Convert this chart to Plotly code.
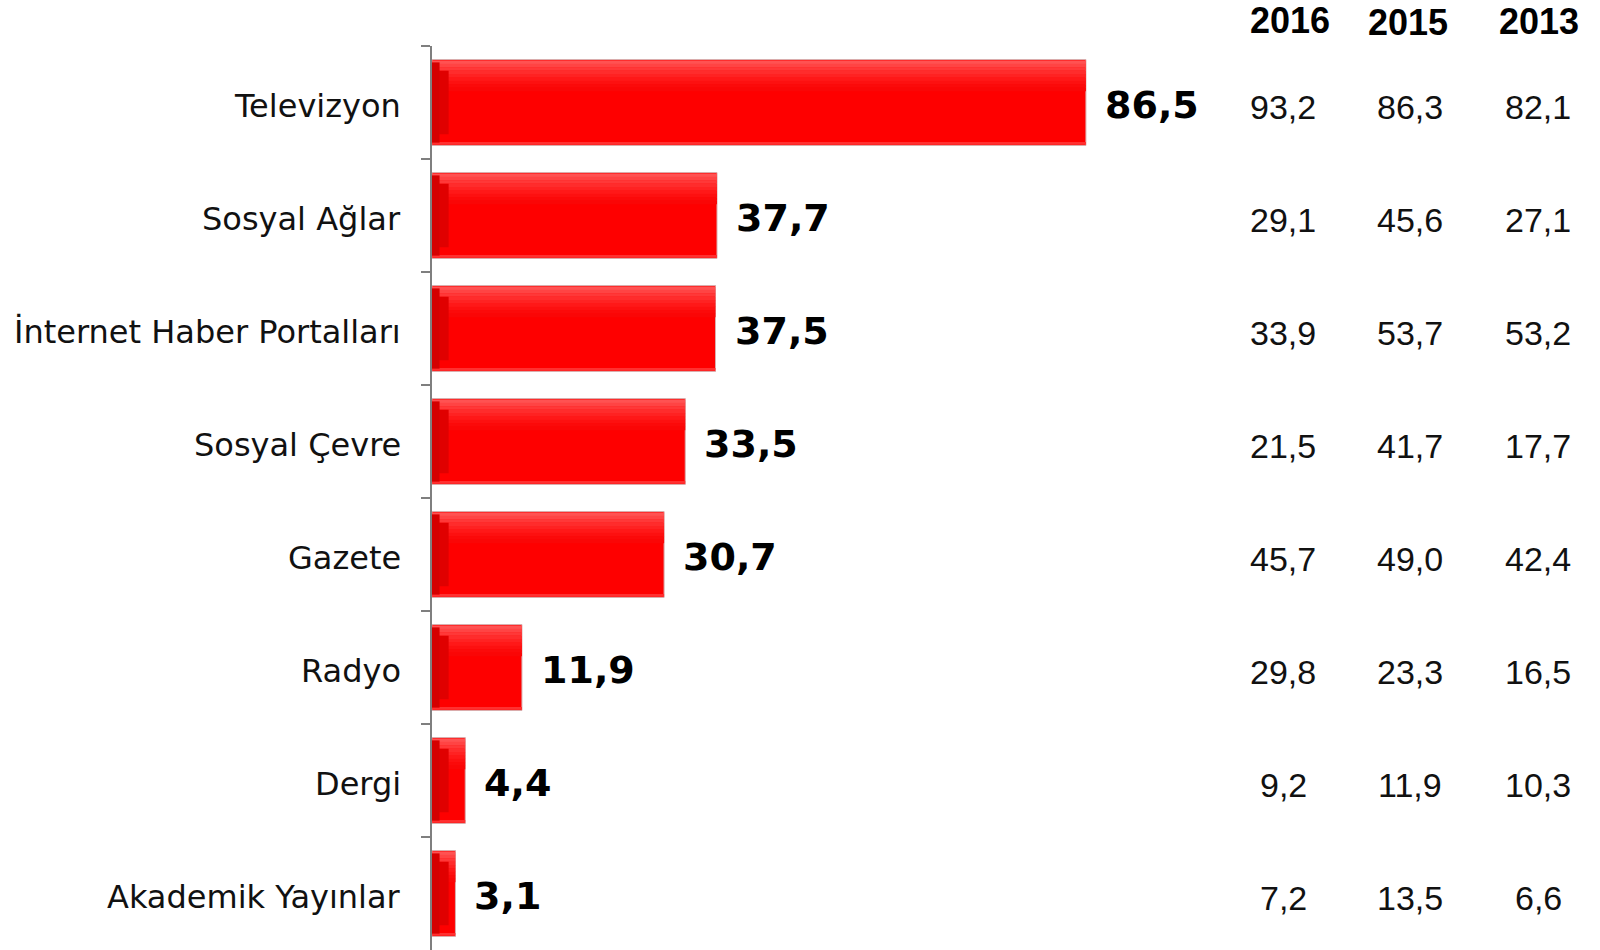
import plotly.graph_objects as go

# ---- data ----
categories = ["Televizyon", "Sosyal Ağlar", "İnternet Haber Portalları", "Sosyal Çevre",
              "Gazete", "Radyo", "Dergi", "Akademik Yayınlar"]
values_main = [86.5, 37.7, 37.5, 33.5, 30.7, 11.9, 4.4, 3.1]
years = ["2016", "2015", "2013"]
values_2016 = [93.2, 29.1, 33.9, 21.5, 45.7, 29.8, 9.2, 7.2]
values_2015 = [86.3, 45.6, 53.7, 41.7, 49.0, 23.3, 11.9, 13.5]
values_2013 = [82.1, 27.1, 53.2, 17.7, 42.4, 16.5, 10.3, 6.6]


def fmt(v):
    return f"{v:.1f}".replace(".", ",")


# ---- layout constants (body margin removed via post_script) ----
W, H = 1600, 950
ML, MR, MT, MB = 432, 412, 46, 0
PW = W - ML - MR
PH = H - MT - MB


def px_to_paper_x(px):
    return (px - ML) / PW


def px_to_paper_y(py):
    return 1 - (py - MT) / PH


fig = go.Figure()

BW = 0.76
top = -BW / 2
# main bar
fig.add_trace(go.Bar(y=categories, x=values_main, orientation="h", width=BW, offset=top,
                     marker=dict(color="#FE0000", line=dict(color="#D8B0B0", width=1)),
                     hoverinfo="skip", showlegend=False))
# top-light gradient stripes (style)
grad = ["#FF5252", "#FF4444", "#FF3838", "#FF2C2C", "#FF2222", "#FF1818", "#FD1010", "#FB0A0A", "#FA0606"]
step = 0.03
for i, col in enumerate(grad):
    fig.add_trace(go.Bar(y=categories, x=values_main, orientation="h", width=step + 0.002,
                         offset=top + 0.008 + i * step,
                         marker=dict(color=col, line=dict(width=0)),
                         hoverinfo="skip", showlegend=False))
# bottom light edge
fig.add_trace(go.Bar(y=categories, x=values_main, orientation="h", width=0.015, offset=top + BW - 0.022,
                     marker=dict(color="#FF3030", line=dict(width=0)),
                     hoverinfo="skip", showlegend=False))
# left darker bevel
fig.add_trace(go.Bar(y=categories, x=[min(v, 2.2) for v in values_main], orientation="h",
                     width=BW - 0.2, offset=top + 0.1,
                     marker=dict(color="#E00000", line=dict(width=0)),
                     hoverinfo="skip", showlegend=False))
fig.add_trace(go.Bar(y=categories, x=[min(v, 1.0) for v in values_main], orientation="h",
                     width=BW - 0.05, offset=top + 0.025,
                     marker=dict(color="#D40000", line=dict(width=0)),
                     hoverinfo="skip", showlegend=False))

annotations = []
# category labels
for c in categories:
    annotations.append(dict(x=0, y=c, xref="paper", yref="y", text=c, showarrow=False,
                            xanchor="right", yanchor="middle", xshift=-29, yshift=-3,
                            font=dict(family="DejaVu Sans", size=32, color="#111111")))
# value labels next to bars
for c, v in zip(categories, values_main):
    annotations.append(dict(x=v, y=c, xref="x", yref="y", text=fmt(v), showarrow=False,
                            xanchor="left", yanchor="middle", xshift=17, yshift=-2,
                            font=dict(family="DejaVu Sans", size=38, color="#000000", weight="bold")))

# table columns on the right
col_val_px = [1283, 1410, 1538]
col_head_px = [1290, 1408, 1539]
head_y_px = [21, 23, 22]
for yr, cx, hy in zip(years, col_head_px, head_y_px):
    annotations.append(dict(x=px_to_paper_x(cx), y=px_to_paper_y(hy), xref="paper", yref="paper",
                            text=yr, showarrow=False, xanchor="center", yanchor="middle",
                            font=dict(family="Liberation Sans", size=36, color="#000000", weight="bold")))
for series, cx in zip([values_2016, values_2015, values_2013], col_val_px):
    for c, v in zip(categories, series):
        annotations.append(dict(x=px_to_paper_x(cx), y=c, xref="paper", yref="y",
                                text=fmt(v), showarrow=False, xanchor="center", yanchor="middle",
                                yshift=-4,
                                font=dict(family="Liberation Sans", size=34, color="#111111")))

fig.update_layout(
    width=W, height=H, autosize=False,
    margin=dict(l=ML, r=MR, t=MT, b=MB, pad=0),
    paper_bgcolor="white", plot_bgcolor="white",
    barmode="overlay",
    showlegend=False,
    annotations=annotations,
    xaxis=dict(range=[0, 100], visible=False, showgrid=False, zeroline=False),
    yaxis=dict(type="category", autorange="reversed", showgrid=False, zeroline=False,
               showline=True, linecolor="#7F7F7F", linewidth=2,
               ticks="outside", ticklen=9, tickwidth=2, tickcolor="#7F7F7F",
               tickson="boundaries", showticklabels=False),
)

fig.write_html("out.html", config={"displayModeBar": False},
               post_script="document.body.style.margin='0';")
